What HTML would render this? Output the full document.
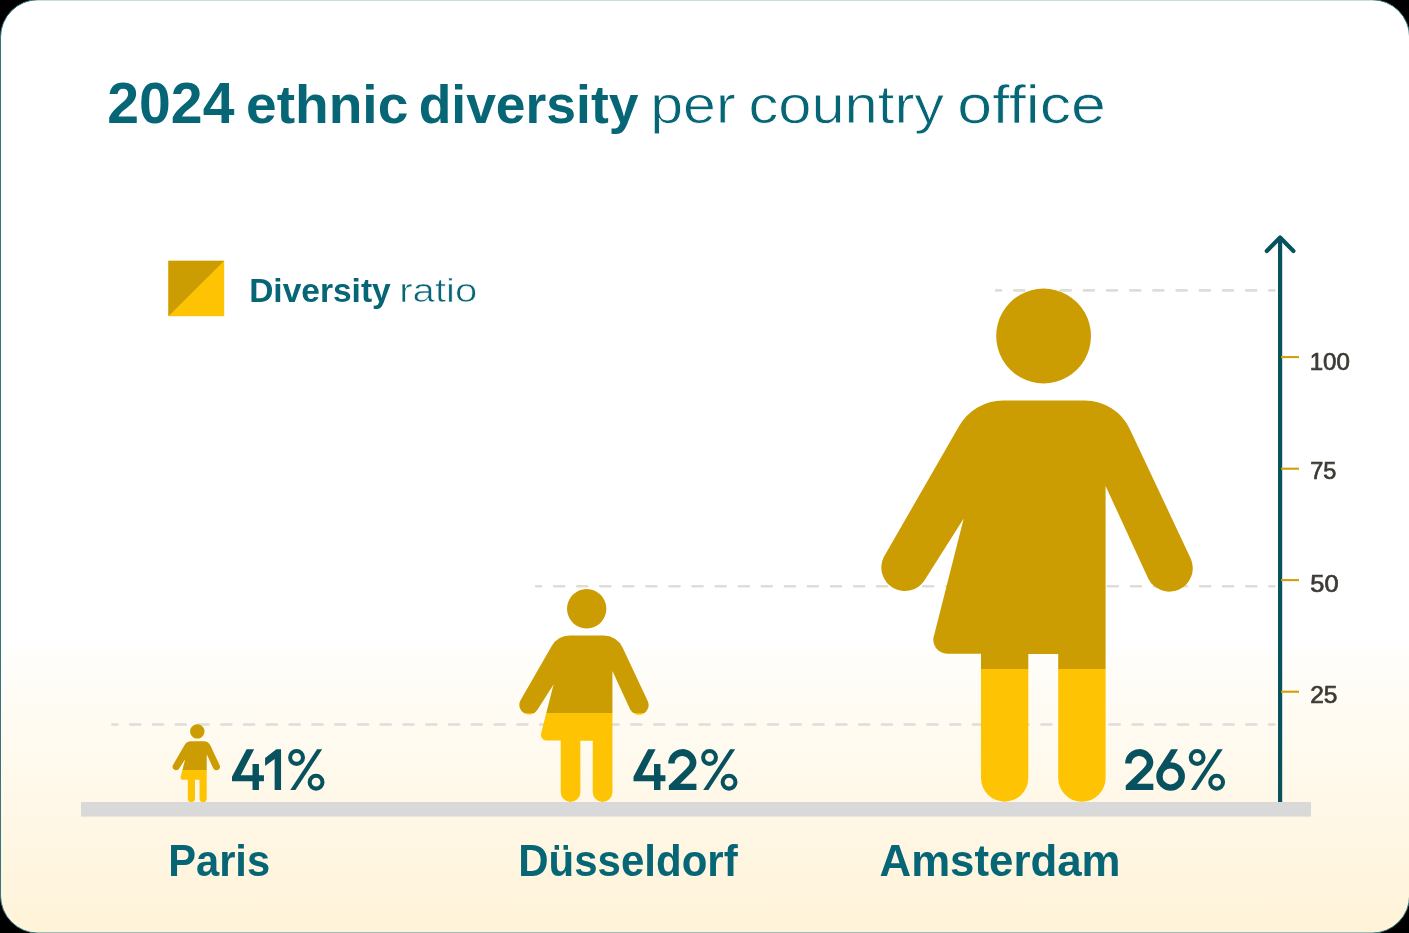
<!DOCTYPE html>
<html lang="en">
<head>
<meta charset="utf-8">
<title>2024 ethnic diversity per country office</title>
<style>
  html, body { margin: 0; padding: 0; background: #000; }
  body { width: 1409px; height: 933px; overflow: hidden; }
  svg { display: block; will-change: transform; }
  text { font-family: "Liberation Sans", sans-serif; }
  .b { font-weight: 700; }
</style>
</head>
<body>
<svg width="1409" height="933" viewBox="0 0 1409 933">
  <defs>
    <linearGradient id="bg" gradientUnits="userSpaceOnUse" x1="0" y1="0" x2="0" y2="933">
      <stop offset="0" stop-color="#ffffff"/>
      <stop offset="0.6945" stop-color="#ffffff"/>
      <stop offset="0.6946" stop-color="#fffefb"/>
      <stop offset="1" stop-color="#fff3d8"/>
    </linearGradient>
    <linearGradient id="gA" x1="0" y1="0" x2="0" y2="1">
      <stop offset="0.7412" stop-color="#cc9d02"/>
      <stop offset="0.7412" stop-color="#fec303"/>
    </linearGradient>
    <linearGradient id="gD" x1="0" y1="0" x2="0" y2="1">
      <stop offset="0.58" stop-color="#cc9d02"/>
      <stop offset="0.58" stop-color="#fec303"/>
    </linearGradient>
    <linearGradient id="gP" x1="0" y1="0" x2="0" y2="1">
      <stop offset="0.59" stop-color="#cc9d02"/>
      <stop offset="0.59" stop-color="#fec303"/>
    </linearGradient>
    <!-- person pictogram, drawn in Amsterdam's absolute coordinates -->
    <path id="person" d="
      M 1043.6,288.6 A 47.4,47.4 0 1 1 1043.59,288.6 Z
      M 1002.9,400.4 L 1084.6,400.4
      A 50,50 0 0 1 1130,429.4
      L 1190.9,558.9
      A 23.5,23.5 0 0 1 1148.3,578.7
      L 1105.6,486
      L 1105.6,778
      A 23.7,23.7 0 0 1 1058.2,778
      L 1058.2,654 L 1028.3,654 L 1028.3,778
      A 23.65,23.65 0 0 1 981,778
      L 981,653.7 L 947.2,653.7
      A 14,14 0 0 1 934.3,634.4
      L 963.7,518.6
      L 924.6,580.2
      A 23.5,23.5 0 0 1 883.8,557
      L 959,426.3
      A 50.5,50.5 0 0 1 1002.9,400.4 Z"/>
    <!-- hand-drawn geometric numerals for the percentages (local coords: left edge / baseline) -->
    <path id="g4" d="M14.62,-40.77 L22.12,-40.77 L8.73,-14.79 L20.52,-14.79 L20.52,-25.87 L26.95,-25.87 L26.95,-14.79 L31.93,-14.79 L31.93,-8.73 L26.95,-8.73 L26.95,0 L20.52,0 L20.52,-8.73 L0,-8.73 L0,-13.29 Z"/>
    <path id="g1" d="M11.25,-40.77 L15.96,-40.77 L15.96,0 L9.54,0 L9.54,-30.96 L0,-24 L0,-31.93 Z"/>
    <path id="g2" d="M0,-26.57 A14.08,14.14 0 0 1 28.12,-27.75 C28.12,-24.54 26.79,-21.32 24.37,-18.64 L11.79,-6.21 L28.12,-6.21 L28.12,0 L0.54,0 L0.54,-4.45 L17.41,-20.79 C19.55,-22.93 21.43,-25.07 21.43,-27.75 A7.55,7.5 0 0 0 6.43,-26.57 Z"/>
    <g id="g6"><path d="M14.73,-40.77 L21.7,-40.77 L12.32,-24.8 L3.21,-20.25 L2.04,-21 Z"/><circle cx="14.3" cy="-13.5" r="11.14" fill="none" stroke="#07525e" stroke-width="6.37"/></g>
    <g id="gp"><path d="M28.96,-40.63 L34.07,-40.63 L7.24,0 L2.13,0 Z"/><circle cx="8.43" cy="-32.5" r="6.42" fill="none" stroke="#07525e" stroke-width="4.05"/><circle cx="27.95" cy="-7.75" r="6.42" fill="none" stroke="#07525e" stroke-width="4.05"/></g>
  </defs>

  <!-- card -->
  <rect x="0.5" y="-0.25" width="1409.1" height="933.3" rx="37.5" ry="37.5" fill="url(#bg)" stroke="#33777f" stroke-width="1"/>

  <!-- title -->
  <g fill="#076676">
    <text class="b" font-size="56.5" transform="translate(107.27,123.2) scale(1.0117,1)">2024</text>
    <text class="b" font-size="54.5" transform="translate(246.02,123.2) scale(1.0116,1)">ethnic</text>
    <text class="b" font-size="54.5" transform="translate(418.64,123.2) scale(0.9807,1)">diversity</text>
    <text font-size="54.5" transform="translate(650.24,123.2) scale(1.084,1)" stroke="#fff" stroke-width="0.8" vector-effect="non-scaling-stroke">per</text>
    <text font-size="54.5" transform="translate(748.41,123.2) scale(1.0951,1)" stroke="#fff" stroke-width="0.8" vector-effect="non-scaling-stroke">country</text>
    <text font-size="54.5" transform="translate(957.3,123.2) scale(1.1499,1)" stroke="#fff" stroke-width="0.8" vector-effect="non-scaling-stroke">office</text>
  </g>

  <!-- legend -->
  <rect x="168.4" y="260.8" width="55.8" height="55.4" fill="#fec303"/>
  <path d="M168.4,260.8 L224.2,260.8 L168.4,316.2 Z" fill="#cc9d02"/>
  <g fill="#076676">
    <text class="b" font-size="33" transform="translate(249.16,301.6) scale(1.0151,1)">Diversity</text>
    <text font-size="33" transform="translate(399.2,301.6) scale(1.218,1)" stroke="#fff" stroke-width="0.7" vector-effect="non-scaling-stroke">ratio</text>
  </g>

  <!-- dashed guide lines -->
  <g stroke="#deddd8" stroke-width="2.6" stroke-linecap="round" fill="none">
    <path d="M996.1,290.4 H1274.4" stroke-dasharray="10 13.19" stroke-dashoffset="5"/>
    <path d="M536.1,586.3 H1274.4" stroke-dasharray="10 13.07" stroke-dashoffset="5"/>
    <path d="M112.4,724.5 H1274.4" stroke-dasharray="10 12.78" stroke-dashoffset="5"/>
  </g>

  <!-- axis -->
  <g stroke="#07525e" stroke-width="4.2" fill="none" stroke-linecap="round" stroke-linejoin="round">
    <path d="M1280.1,803 V238" stroke-linecap="butt"/>
    <path d="M1266.8,250.9 L1280.1,237.6 L1293.4,250.9"/>
  </g>
  <g stroke="#d29f04" stroke-width="2.1">
    <path d="M1281,357.1 H1299"/>
    <path d="M1281,468.7 H1299"/>
    <path d="M1281,580.1 H1299"/>
    <path d="M1281,691.7 H1299"/>
  </g>
  <g fill="#3c3a35" stroke="#3c3a35" stroke-width="0.7" vector-effect="non-scaling-stroke">
    <text font-size="24.5" transform="translate(1309.64,369.9) scale(0.9855,1)">100</text>
    <text font-size="24.5" transform="translate(1310.18,479.4) scale(0.9606,1)">75</text>
    <text font-size="24.5" transform="translate(1310.35,591.8) scale(1.0371,1)">50</text>
    <text font-size="24.5" transform="translate(1310.14,702.8) scale(1.0015,1)">25</text>
  </g>

  <!-- figures -->
  <use href="#person" fill="url(#gA)"/>
  <use href="#person" fill="url(#gD)" transform="translate(586.7,802) scale(0.415) translate(-1043.6,-801.7)"/>
  <use href="#person" fill="url(#gP)" transform="translate(197.3,802.2) scale(0.152) translate(-1043.6,-801.7)"/>

  <!-- ground -->
  <rect x="81" y="802" width="1230" height="14.6" fill="#d9d9d9"/>

  <!-- percentages -->
  <g fill="#07525e" role="img" aria-label="41%, 42%, 26%">
    <use href="#g4" x="232.0" y="789.95"/>
    <use href="#g1" x="265.1" y="789.95"/>
    <use href="#gp" x="288.13" y="789.95"/>
    <use href="#g4" x="633.5" y="789.95"/>
    <use href="#g2" x="668.3" y="789.95"/>
    <use href="#gp" x="701.1" y="789.95"/>
    <use href="#g2" x="1125.2" y="789.95"/>
    <use href="#g6" x="1156.3" y="789.95"/>
    <use href="#gp" x="1188.7" y="789.95"/>
  </g>

  <!-- city labels -->
  <g fill="#076676">
    <text class="b" font-size="44" transform="translate(168.2,876.3) scale(0.9467,1)">Paris</text>
    <text class="b" font-size="44" transform="translate(518.18,876.3) scale(0.9555,1)">Düsseldorf</text>
    <text class="b" font-size="44" transform="translate(879.51,876.3) scale(0.9957,1)">Amsterdam</text>
  </g>
</svg>
</body>
</html>
